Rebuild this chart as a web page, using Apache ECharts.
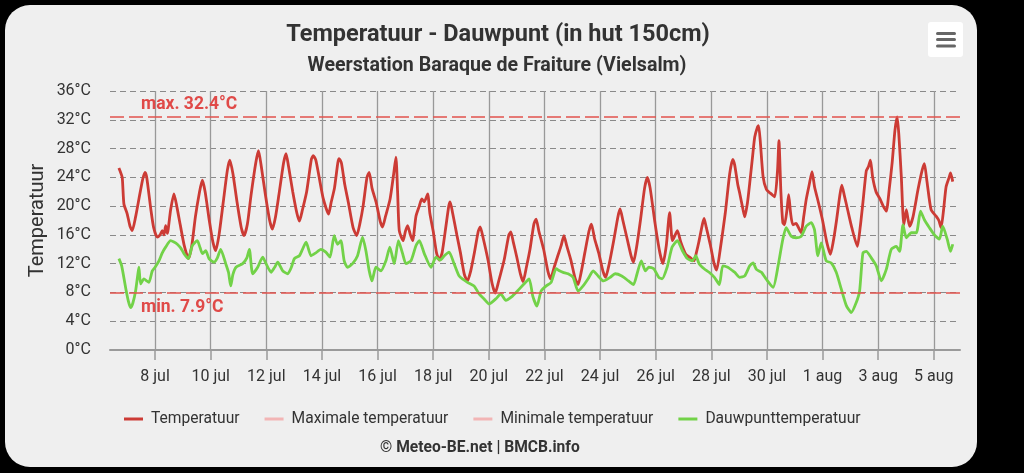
<!DOCTYPE html>
<html><head><meta charset="utf-8">
<script src="https://cdn.jsdelivr.net/npm/echarts@6/dist/echarts.min.js"></script>
<style>html,body{margin:0;padding:0;background:#000;overflow:hidden}#c{width:1024px;height:473px}</style>
</head><body><div id="c"></div>
<script>
// x = day of July (8 = 8 jul 00:00, 32 = 1 aug 00:00)
const tempDays = [6.70,6.75,6.82,6.88,7.00,7.10,7.18,7.30,7.42,7.56,7.64,7.70,7.85,7.95,8.08,8.18,8.26,8.32,8.38,8.44,8.56,8.68,8.78,8.90,9.05,9.20,9.32,9.45,9.60,9.70,9.80,9.95,10.08,10.18,10.30,10.45,10.60,10.69,10.80,10.95,11.10,11.20,11.32,11.45,11.62,11.72,11.82,11.97,12.12,12.22,12.33,12.45,12.62,12.71,12.80,12.95,13.10,13.19,13.30,13.45,13.62,13.69,13.78,13.90,14.05,14.24,14.33,14.45,14.57,14.62,14.70,14.82,14.95,15.12,15.25,15.36,15.48,15.62,15.70,15.80,15.95,16.10,16.18,16.28,16.45,16.58,16.66,16.72,16.78,16.92,17.00,17.08,17.18,17.26,17.38,17.50,17.59,17.68,17.80,17.88,18.00,18.12,18.22,18.32,18.45,18.56,18.61,18.70,18.85,18.98,19.12,19.23,19.35,19.48,19.62,19.69,19.80,19.97,20.12,20.23,20.35,20.55,20.72,20.79,20.88,21.00,21.14,21.23,21.35,21.48,21.62,21.70,21.80,21.97,22.12,22.22,22.35,22.48,22.60,22.70,22.80,22.95,23.10,23.21,23.33,23.45,23.60,23.69,23.80,23.95,24.10,24.20,24.33,24.48,24.64,24.72,24.82,24.97,25.12,25.20,25.32,25.45,25.60,25.70,25.80,25.98,26.15,26.26,26.38,26.50,26.60,26.70,26.78,26.90,27.08,27.25,27.38,27.46,27.55,27.68,27.74,27.82,27.97,28.10,28.19,28.32,28.50,28.66,28.77,28.84,28.95,29.02,29.14,29.20,29.30,29.38,29.48,29.56,29.66,29.70,29.76,29.86,29.98,30.12,30.28,30.38,30.43,30.50,30.57,30.63,30.72,30.78,30.85,30.93,31.05,31.11,31.23,31.32,31.41,31.52,31.62,31.71,31.85,32.00,32.15,32.28,32.38,32.50,32.62,32.69,32.78,32.90,33.05,33.25,33.35,33.45,33.57,33.65,33.72,33.80,33.92,34.05,34.18,34.29,34.40,34.50,34.60,34.68,34.74,34.83,34.92,35.01,35.08,35.13,35.25,35.43,35.58,35.66,35.75,35.90,36.08,36.18,36.26,36.35,36.44,36.55,36.60,36.68];
const tempVals = [25.3,24.8,24.0,20.3,18.9,17.2,16.6,18.5,21.0,23.8,24.7,24.0,19.5,17.0,15.7,16.0,16.6,16.0,17.3,16.2,19.5,21.7,20.0,17.5,14.5,12.7,14.5,18.5,22.0,23.6,22.0,18.0,15.0,13.8,16.0,20.5,25.0,26.4,24.5,20.5,17.0,15.9,17.5,21.5,26.0,27.7,25.5,21.5,18.0,16.8,18.5,21.5,26.0,27.3,25.5,22.0,19.0,17.9,19.5,22.0,26.5,27.0,26.4,24.0,21.0,18.9,20.5,22.5,26.0,26.6,26.0,23.0,20.5,17.0,15.9,17.5,20.0,24.0,24.7,22.5,20.5,17.8,17.1,18.5,21.0,24.5,26.8,22.0,16.6,15.2,16.5,17.3,16.0,15.2,18.6,20.0,21.0,20.6,21.7,19.0,16.5,13.5,12.5,13.5,17.0,20.0,20.6,19.0,16.0,13.5,10.5,9.6,11.0,13.5,16.5,17.1,15.5,12.5,9.2,7.9,9.5,12.5,16.0,16.4,15.0,13.0,10.5,9.5,11.5,14.0,17.5,18.2,16.5,14.0,11.0,9.9,11.5,13.1,14.5,15.9,14.5,12.5,10.0,9.1,11.0,13.5,16.5,17.5,15.5,13.5,11.0,10.1,12.0,15.0,18.5,19.6,18.0,15.5,13.0,12.2,14.5,18.0,22.5,24.0,22.5,17.5,13.5,12.0,14.5,19.1,15.2,16.0,16.6,15.0,13.3,12.8,12.4,13.5,15.0,17.5,18.3,17.0,14.5,12.0,11.1,14.0,19.0,24.5,26.5,25.7,23.0,21.8,19.5,18.5,20.5,23.2,26.8,29.6,31.0,31.2,29.0,24.1,22.3,21.8,21.3,25.0,29.1,22.0,17.7,17.4,19.5,21.6,19.0,17.4,17.6,17.2,16.3,18.5,20.9,23.0,24.8,22.7,20.5,18.0,15.0,13.3,15.0,18.0,21.5,22.9,21.5,19.5,17.0,14.4,17.0,20.5,24.9,25.5,26.4,24.0,22.0,21.1,20.0,19.3,22.5,26.0,30.5,32.4,30.0,24.1,17.4,19.5,18.0,17.2,18.5,22.3,25.0,25.9,23.5,19.5,18.6,18.0,17.0,19.5,22.7,24.0,24.6,23.4];
const dewDays = [6.70,6.80,6.94,7.04,7.12,7.20,7.30,7.38,7.42,7.48,7.60,7.70,7.78,7.90,8.00,8.14,8.26,8.38,8.56,8.68,8.80,8.92,9.04,9.20,9.34,9.52,9.62,9.70,9.82,9.94,10.12,10.24,10.36,10.54,10.64,10.72,10.80,10.91,11.15,11.30,11.39,11.51,11.69,11.87,11.99,12.17,12.30,12.41,12.59,12.77,12.90,13.01,13.19,13.30,13.43,13.61,13.78,13.96,14.14,14.29,14.44,14.56,14.68,14.80,14.92,15.10,15.28,15.46,15.58,15.70,15.80,15.94,16.12,16.30,16.44,16.60,16.75,16.90,17.02,17.20,17.38,17.50,17.68,17.92,18.10,18.25,18.40,18.57,18.75,18.93,19.08,19.23,19.47,19.65,19.83,20.01,20.25,20.43,20.61,20.85,21.03,21.27,21.45,21.58,21.73,21.88,22.06,22.24,22.42,22.54,22.67,22.85,23.03,23.21,23.39,23.57,23.75,23.93,24.12,24.36,24.54,24.78,25.02,25.20,25.33,25.48,25.63,25.75,25.93,26.11,26.23,26.41,26.59,26.78,26.96,27.14,27.32,27.44,27.56,27.74,27.92,28.11,28.29,28.41,28.59,28.77,28.84,29.02,29.20,29.38,29.50,29.62,29.80,29.98,30.22,30.40,30.57,30.69,30.87,31.05,31.23,31.41,31.59,31.71,31.83,31.95,32.13,32.31,32.49,32.67,32.85,33.03,33.21,33.33,33.45,33.57,33.75,33.93,34.11,34.29,34.47,34.65,34.77,34.89,35.01,35.19,35.37,35.52,35.66,35.84,36.02,36.20,36.32,36.48,36.60,36.68];
const dewVals = [12.7,11.7,8.7,6.8,5.9,6.5,8.2,10.5,11.5,9.2,9.9,9.6,9.4,11.0,11.5,12.4,13.5,14.3,15.2,15.0,14.7,14.2,13.4,12.7,14.5,15.2,14.2,13.4,13.8,12.7,12.2,12.8,14.0,12.0,10.8,8.9,10.5,11.5,12.0,12.8,14.0,10.6,11.5,12.9,12.0,10.8,11.5,12.2,11.0,10.6,11.5,12.7,13.1,14.0,15.0,13.1,13.5,14.0,13.6,12.9,15.9,14.7,15.2,12.4,11.5,12.0,13.1,15.7,13.8,11.0,9.6,11.5,11.0,12.4,14.3,12.0,15.2,13.4,12.0,12.4,14.5,15.2,13.4,11.5,12.9,12.5,13.1,13.6,12.0,10.3,9.8,9.4,8.9,7.8,7.1,6.4,7.1,7.8,6.9,7.5,8.2,9.2,9.9,7.5,6.1,8.2,8.9,9.4,11.3,11.0,10.8,10.6,10.1,8.2,8.9,9.9,11.0,10.3,9.6,10.1,10.6,10.3,9.6,9.1,10.6,12.4,11.0,11.5,11.3,10.1,9.9,11.5,14.3,15.2,13.8,12.7,12.4,13.1,12.0,11.3,10.8,10.1,9.1,11.7,11.5,11.0,10.8,10.1,10.3,11.7,12.1,11.2,10.8,9.8,8.7,11.7,15.4,17.0,15.8,15.6,15.8,17.2,17.7,16.7,13.1,14.9,12.4,12.1,10.8,8.5,6.2,5.2,6.6,8.2,13.5,13.7,12.8,11.7,9.6,11.2,14.0,14.4,13.7,17.4,15.6,16.3,16.3,19.3,18.1,17.0,16.0,15.4,17.2,15.4,13.7,14.7];
const xTickDays = [8,10,12,14,16,18,20,22,24,26,28,30,32,34,36];
const xTickLabels = ['8 jul','10 jul','12 jul','14 jul','16 jul','18 jul','20 jul','22 jul','24 jul','26 jul','28 jul','30 jul','1 aug','3 aug','5 aug'];
const seriesNames = ['Temperatuur','Maximale temperatuur','Minimale temperatuur','Dauwpunttemperatuur'];
const maxTemp = 32.4;
const minTemp = 7.9;

const zip = (a, b) => a.map((v, i) => [v, b[i]]);
const FONT = 'Roboto';
const chart = echarts.init(document.getElementById('c'), null, {renderer: 'canvas'});
chart.setOption({
  animation: false,
  backgroundColor: '#000',
  textStyle: {fontFamily: FONT},
  graphic: [
    {type: 'rect', z: -100, silent: true, shape: {x: 5, y: 5, width: 972, height: 462, r: 25}, style: {fill: '#efefef'}},
    {type: 'rect', z: 100, silent: true, shape: {x: 928, y: 22, width: 35, height: 35, r: 3}, style: {fill: '#ffffff'}},
    {type: 'rect', z: 101, silent: true, shape: {x: 936, y: 32, width: 20, height: 3, r: 1.5}, style: {fill: '#666'}},
    {type: 'rect', z: 101, silent: true, shape: {x: 936, y: 38, width: 20, height: 3, r: 1.5}, style: {fill: '#666'}},
    {type: 'rect', z: 101, silent: true, shape: {x: 936, y: 44.5, width: 20, height: 3, r: 1.5}, style: {fill: '#666'}},
    {type: 'text', z: 100, silent: true, left: 380, top: 440, style: {text: '© Meteo-BE.net | BMCB.info', font: 'bold 15.6px Roboto', fill: '#333'}}
  ],
  title: [
    {text: 'Temperatuur - Dauwpunt (in hut 150cm)', left: 493, top: 18, textAlign: 'center', textStyle: {fontFamily: FONT, fontSize: 23.5, fontWeight: 'bold', color: '#333'}},
    {text: 'Weerstation Baraque de Fraiture (Vielsalm)', left: 492, top: 51, textAlign: 'center', textStyle: {fontFamily: FONT, fontSize: 19.6, fontWeight: 'bold', color: '#333'}}
  ],
  legend: {
    left: 124, top: 411, padding: 0, itemWidth: 19, itemHeight: 3, itemGap: 25, icon: 'rect',
    data: seriesNames,
    textStyle: {fontFamily: FONT, fontSize: 15.6, color: '#333', padding: [0, 0, 0, 3]}
  },
  grid: {left: 110, right: 64, top: 91, bottom: 123, containLabel: false},
  xAxis: {
    type: 'value', min: 6.38, max: 36.94,
    axisLine: {show: true, lineStyle: {color: '#9a9a9a', width: 2}},
    axisTick: {show: true, length: 10, customValues: xTickDays, lineStyle: {color: '#9a9a9a', width: 1.5}},
    axisLabel: {customValues: xTickDays, margin: 19, fontFamily: FONT, fontSize: 16, color: '#333',
      formatter: v => xTickLabels[xTickDays.indexOf(Math.round(v))] || ''},
    splitLine: {show: true, lineStyle: {color: '#999', width: 1.3, type: 'solid'}}
  },
  yAxis: {
    type: 'value', min: 0, max: 36, interval: 4,
    name: 'Temperatuur', nameLocation: 'middle', nameGap: 62, nameMoveOverlap: false,
    nameTextStyle: {fontFamily: FONT, fontSize: 20, color: '#333'},
    axisLine: {show: false}, axisTick: {show: false},
    axisLabel: {margin: 19, fontFamily: FONT, fontSize: 16, color: '#333', formatter: v => v + '°C'},
    splitLine: {show: true, lineStyle: {color: '#8a8a8a', width: 1.2, type: [6, 4]}}
  },
  series: [
    {
      name: seriesNames[0], type: 'line', data: zip(tempDays, tempVals), showSymbol: false, smooth: 0.2,
      color: '#cc3b35', lineStyle: {width: 2.8, color: '#cc3b35'}, z: 3,
      markLine: {
        silent: true, symbol: ['none', 'none'],
        lineStyle: {color: '#e2534d', width: 1.5, type: [14, 5]},
        data: [
          {yAxis: maxTemp, label: {show: true, position: 'insideStartTop', distance: [31, 3], formatter: 'max. ' + maxTemp.toFixed(1) + '°C', fontFamily: FONT, fontSize: 17.5, fontWeight: 'bold', color: '#e04a48'}},
          {yAxis: minTemp, label: {show: true, position: 'insideStartBottom', distance: [31, 5], formatter: 'min. ' + minTemp.toFixed(1) + '°C', fontFamily: FONT, fontSize: 17.5, fontWeight: 'bold', color: '#e04a48'}}
        ]
      }
    },
    {name: seriesNames[1], type: 'line', data: [], color: '#f2b5b5', lineStyle: {width: 2}},
    {name: seriesNames[2], type: 'line', data: [], color: '#f2b5b5', lineStyle: {width: 2}},
    {
      name: seriesNames[3], type: 'line', data: zip(dewDays, dewVals), showSymbol: false, smooth: 0.2,
      color: '#72d248', lineStyle: {width: 2.8, color: '#72d248'}, z: 4
    }
  ]
});
</script>
</body></html>
